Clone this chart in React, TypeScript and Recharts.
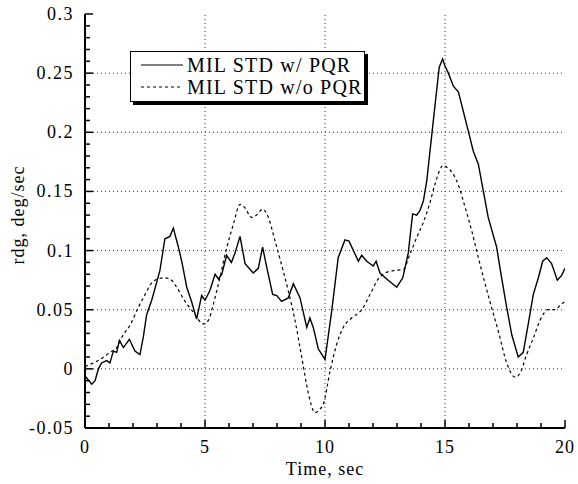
import React from "react";
import { LineChart, Line, XAxis, YAxis, ReferenceLine } from "recharts";

const tSolid = [0, 0.28, 0.42, 0.56, 0.69, 0.9, 1.04, 1.18, 1.32, 1.43, 1.6, 1.85, 2.08, 2.29, 2.43, 2.57, 2.78, 3.12, 3.33, 3.54, 3.68, 3.89, 4.03, 4.24, 4.44, 4.65, 4.86, 5.0, 5.2, 5.42, 5.56, 5.7, 5.9, 6.1, 6.25, 6.46, 6.67, 7.01, 7.22, 7.4, 7.57, 7.82, 7.99, 8.19, 8.47, 8.68, 8.96, 9.24, 9.37, 9.51, 9.72, 10.0, 10.28, 10.55, 10.83, 11.0, 11.39, 11.53, 11.74, 12.01, 12.13, 12.29, 12.57, 12.99, 13.24, 13.47, 13.65, 13.82, 13.96, 14.1, 14.24, 14.45, 14.65, 14.76, 14.9, 15.0, 15.14, 15.35, 15.56, 15.76, 15.97, 16.18, 16.39, 16.6, 16.8, 17.15, 17.36, 17.57, 17.78, 18.05, 18.26, 18.47, 18.68, 18.89, 19.07, 19.24, 19.44, 19.68, 19.86, 20.0];
const vSolid = [-0.006, -0.013, -0.01, 0.0, 0.005, 0.007, 0.005, 0.015, 0.014, 0.024, 0.018, 0.025, 0.015, 0.012, 0.027, 0.046, 0.058, 0.083, 0.11, 0.112, 0.119, 0.103, 0.091, 0.069, 0.057, 0.042, 0.062, 0.058, 0.066, 0.08, 0.076, 0.08, 0.096, 0.09, 0.098, 0.112, 0.089, 0.081, 0.085, 0.103, 0.086, 0.063, 0.062, 0.057, 0.06, 0.072, 0.06, 0.035, 0.043, 0.035, 0.017, 0.008, 0.049, 0.094, 0.109, 0.108, 0.091, 0.096, 0.091, 0.087, 0.091, 0.081, 0.076, 0.069, 0.077, 0.098, 0.131, 0.13, 0.134, 0.142, 0.159, 0.198, 0.235, 0.255, 0.262, 0.256, 0.25, 0.239, 0.234, 0.218, 0.201, 0.184, 0.173, 0.15, 0.128, 0.103, 0.077, 0.052, 0.029, 0.01, 0.014, 0.038, 0.063, 0.077, 0.091, 0.094, 0.089, 0.075, 0.079, 0.085];

const tDashed = [0, 0.35, 0.63, 1.04, 1.32, 1.6, 1.88, 2.22, 2.43, 2.85, 3.26, 3.54, 3.82, 4.17, 4.51, 4.93, 5.14, 5.35, 5.62, 5.9, 6.18, 6.46, 6.67, 6.94, 7.15, 7.4, 7.64, 7.92, 8.19, 8.47, 8.75, 9.03, 9.31, 9.58, 9.79, 9.93, 10.21, 10.49, 10.76, 11.11, 11.53, 11.88, 12.22, 12.5, 12.85, 13.26, 13.54, 13.82, 14.1, 14.38, 14.58, 14.93, 15.1, 15.33, 15.6, 15.76, 16.11, 16.39, 16.67, 16.94, 17.22, 17.57, 17.92, 18.12, 18.4, 18.68, 18.96, 19.3, 19.58, 19.86, 20.0];
const vDashed = [0.002, 0.005, 0.008, 0.014, 0.018, 0.029, 0.037, 0.052, 0.06, 0.074, 0.077, 0.076, 0.069, 0.057, 0.048, 0.038, 0.041, 0.055, 0.077, 0.102, 0.122, 0.139, 0.136, 0.128, 0.13, 0.135, 0.128, 0.108, 0.088, 0.066, 0.041, 0.01, -0.021, -0.037, -0.034, -0.03, -0.002, 0.021, 0.035, 0.043, 0.05, 0.063, 0.076, 0.081, 0.083, 0.084, 0.097, 0.111, 0.124, 0.141, 0.156, 0.172, 0.17, 0.165, 0.153, 0.142, 0.117, 0.094, 0.072, 0.052, 0.032, 0.005, -0.007, -0.004, 0.012, 0.026, 0.041, 0.05, 0.05, 0.055, 0.057];

const seriesNames = ["MIL STD w/ PQR", "MIL STD w/o PQR"];
const xMajor = [0, 5, 10, 15, 20];
const xMinor = [0, 1, 2, 3, 4, 5, 6, 7, 8, 9, 10, 11, 12, 13, 14, 15, 16, 17, 18, 19, 20];
const yMajor = [-0.05, 0, 0.05, 0.1, 0.15, 0.2, 0.25, 0.3];
const yMajorLabels = ["-0.05", "0", "0.05", "0.1", "0.15", "0.2", "0.25", "0.3"];
const yMinor: number[] = [];
for (let i = -5; i <= 30; i++) yMinor.push(i / 100);

const solidData = tSolid.map((t, i) => ({ t, v: vSolid[i] }));
const dashedData = tDashed.map((t, i) => ({ t, v: vDashed[i] }));

const W = 578;
const H = 484;
const M = { top: 14, right: 13, bottom: 0, left: 15 };
const YW = 70;
const XH = 56;
const PL = M.left + YW;
const PR = W - M.right;
const PT = M.top;
const PB = H - M.bottom - XH;

const FONT = "'Liberation Serif', 'Times New Roman', Times, serif";
const AXC = "#000";

const isMajorX = (v: number) => xMajor.some((m) => Math.abs(m - v) < 1e-6);
const majorYIndex = (v: number) => yMajor.findIndex((m) => Math.abs(m - v) < 1e-6);

const BottomTick = (props: any) => {
  const { x, payload } = props;
  const major = isMajorX(payload.value);
  const len = major ? 8 : 5;
  return (
    <g>
      <path d={`M${x},${PB} L${x},${PB - len}`} stroke={AXC} strokeWidth={1.5} fill="none" />
      {major && (
        <text x={x} y={PB + 25} textAnchor="middle" fontFamily={FONT} fontSize={18} letterSpacing={1} fill="#000">
          {String(payload.value)}
        </text>
      )}
    </g>
  );
};

const TopTick = (props: any) => {
  const { x, payload } = props;
  const major = isMajorX(payload.value);
  const len = major ? 8 : 5;
  return <path d={`M${x},${PT} L${x},${PT + len}`} stroke={AXC} strokeWidth={1.5} fill="none" />;
};

const LeftTick = (props: any) => {
  const { y, payload } = props;
  const idx = majorYIndex(payload.value);
  const len = idx >= 0 ? 8 : 5;
  return (
    <g>
      <path d={`M${PL},${y} L${PL + len},${y}`} stroke={AXC} strokeWidth={1.5} fill="none" />
      {idx >= 0 && (
        <text x={PL - 11} y={y + 6} textAnchor="end" fontFamily={FONT} fontSize={18} letterSpacing={1.5} fill="#000">
          {yMajorLabels[idx]}
        </text>
      )}
    </g>
  );
};

const RightTick = (props: any) => {
  const { y, payload } = props;
  const idx = majorYIndex(payload.value);
  const len = idx >= 0 ? 8 : 5;
  return <path d={`M${PR},${y} L${PR - len},${y}`} stroke={AXC} strokeWidth={1.5} fill="none" />;
};

const LegendBox = () => (
  <div
    style={{
      position: "absolute",
      left: 130,
      top: 51,
      width: 233,
      height: 49,
      border: "1.5px solid " + AXC,
      boxShadow: "3px 3px 0 #000",
      background: "#fff",
      fontFamily: FONT,
      fontSize: 20,
      letterSpacing: 1.2,
      color: "#000",
      boxSizing: "content-box",
    }}
  >
    {seriesNames.map((name, i) => (
      <div key={name} style={{ display: "flex", alignItems: "center", height: 22, marginTop: i === 0 ? 2 : 0 }}>
        <svg width={56} height={22} style={{ flex: "none" }}>
          <path
            d="M10,11 L52,11"
            stroke="#000"
            strokeWidth={1.2}
            strokeDasharray={i === 0 ? undefined : "3 3"}
            fill="none"
          />
        </svg>
        <span style={{ whiteSpace: "nowrap", lineHeight: "22px" }}>{name}</span>
      </div>
    ))}
  </div>
);

export default function App() {
  return (
    <div style={{ position: "absolute", left: 0, top: 0, width: W, height: H, background: "#fff" }}>
      <LineChart width={W} height={H} margin={M}>
        <XAxis
          xAxisId="b"
          type="number"
          dataKey="t"
          domain={[0, 20]}
          ticks={xMinor}
          interval={0}
          height={XH}
          tickLine={false}
          axisLine={{ stroke: AXC, strokeWidth: 2 }}
          tick={<BottomTick />}
          allowDataOverflow
        />
        <XAxis
          xAxisId="t"
          orientation="top"
          type="number"
          dataKey="t"
          domain={[0, 20]}
          ticks={xMinor}
          interval={0}
          height={0}
          tickLine={false}
          axisLine={{ stroke: AXC, strokeWidth: 2 }}
          tick={<TopTick />}
          allowDataOverflow
        />
        <YAxis
          yAxisId="l"
          type="number"
          domain={[-0.05, 0.3]}
          ticks={yMinor}
          interval={0}
          width={YW}
          tickLine={false}
          axisLine={{ stroke: AXC, strokeWidth: 2 }}
          tick={<LeftTick />}
          allowDataOverflow
        />
        <YAxis
          yAxisId="r"
          orientation="right"
          type="number"
          domain={[-0.05, 0.3]}
          ticks={yMinor}
          interval={0}
          width={0}
          tickLine={false}
          axisLine={{ stroke: AXC, strokeWidth: 2 }}
          tick={<RightTick />}
          allowDataOverflow
        />
        {yMajor.slice(1, -1).map((v) => (
          <ReferenceLine key={"y" + v} xAxisId="b" yAxisId="l" y={v} stroke="#333" strokeWidth={1} strokeDasharray="1 3" />
        ))}
        {xMajor.slice(1, -1).map((v) => (
          <ReferenceLine key={"x" + v} xAxisId="b" yAxisId="l" x={v} stroke="#333" strokeWidth={1} strokeDasharray="1 3" />
        ))}
        <Line
          xAxisId="b"
          yAxisId="l"
          data={dashedData}
          dataKey="v"
          name={seriesNames[1]}
          type="monotone"
          stroke="#000"
          strokeWidth={1.2}
          strokeDasharray="3 3"
          dot={false}
          isAnimationActive={false}
        />
        <Line
          xAxisId="b"
          yAxisId="l"
          data={solidData}
          dataKey="v"
          name={seriesNames[0]}
          type="linear"
          stroke="#000"
          strokeWidth={1.4}
          dot={false}
          isAnimationActive={false}
        />
      </LineChart>
      <LegendBox />
      <div
        style={{
          position: "absolute",
          left: PL,
          width: PR - PL,
          top: 459,
          textAlign: "center",
          fontFamily: FONT,
          fontSize: 18,
          letterSpacing: 1,
          color: "#000",
        }}
      >
        Time, sec
      </div>
      <div
        style={{
          position: "absolute",
          left: 18,
          top: 215,
          transform: "translate(-50%, -50%) rotate(-90deg)",
          whiteSpace: "nowrap",
          fontFamily: FONT,
          fontSize: 18,
          letterSpacing: 1,
          color: "#000",
        }}
      >
        rdg, deg/sec
      </div>
    </div>
  );
}
